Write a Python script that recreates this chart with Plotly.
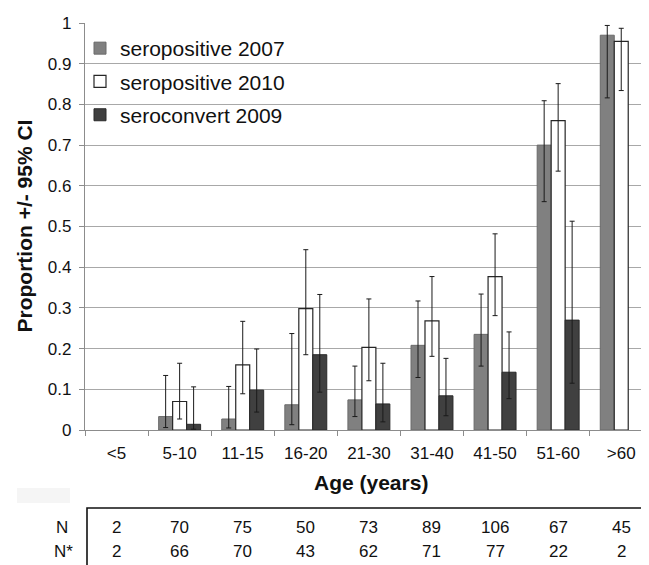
import plotly.graph_objects as go

categories = ['<5', '5-10', '11-15', '16-20', '21-30', '31-40', '41-50', '51-60', '>60']

sero2007 = [None, 0.033, 0.027, 0.062, 0.074, 0.208, 0.235, 0.700, 0.970]
sero2007_hi = [None, 0.134, 0.107, 0.237, 0.157, 0.317, 0.334, 0.809, 0.994]
sero2007_lo = [None, 0.006, 0.005, 0.013, 0.033, 0.129, 0.157, 0.561, 0.816]

sero2010 = [None, 0.070, 0.160, 0.298, 0.203, 0.268, 0.377, 0.760, 0.955]
sero2010_hi = [None, 0.164, 0.267, 0.443, 0.322, 0.377, 0.482, 0.851, 0.987]
sero2010_lo = [None, 0.027, 0.089, 0.185, 0.121, 0.181, 0.281, 0.636, 0.834]

conv2009 = [None, 0.014, 0.098, 0.185, 0.064, 0.084, 0.142, 0.270, None]
conv2009_hi = [None, 0.106, 0.199, 0.333, 0.164, 0.176, 0.241, 0.513, None]
conv2009_lo = [None, 0.002, 0.044, 0.093, 0.020, 0.035, 0.077, 0.115, None]

n_total = [2, 70, 75, 50, 73, 89, 106, 67, 45]
n_star = [2, 66, 70, 43, 62, 71, 77, 22, 2]

FONT = "Liberation Sans, Arial, sans-serif"


def plus(v, h):
    return [None if (a is None or b is None) else b - a for a, b in zip(v, h)]


def minus(v, l):
    return [None if (a is None or b is None) else a - b for a, b in zip(v, l)]


def err(v, h, l):
    return dict(type='data', array=plus(v, h), arrayminus=minus(v, l),
                color='#1a1a1a', thickness=1, width=2.5, visible=True)


fig = go.Figure()
fig.add_trace(go.Bar(name='seropositive 2007', x=categories, y=sero2007,
                     marker=dict(color='#808080', line=dict(color='#6a6a6a', width=1)),
                     error_y=err(sero2007, sero2007_hi, sero2007_lo), legendgroup='a'))
fig.add_trace(go.Bar(name='seropositive 2010', x=categories, y=sero2010,
                     marker=dict(color='#ffffff', line=dict(color='#262626', width=1.2)),
                     error_y=err(sero2010, sero2010_hi, sero2010_lo), legendgroup='b'))
fig.add_trace(go.Bar(name='seroconvert 2009', x=categories, y=conv2009,
                     marker=dict(color='#404040', line=dict(color='#2a2a2a', width=1)),
                     error_y=err(conv2009, conv2009_hi, conv2009_lo), legendgroup='c'))

# the page body has an 8px margin; compensate so the figure fills the window
OFF = 8
W, H = 649 - OFF, 565 - OFF
L, T = 85 - OFF, 23 - OFF
PH = 407
B = H - T - PH
PW = W - L


def px_x(p):
    return (p - OFF - L) / PW


def px_y(p):
    return (T + PH - (p - OFF)) / PH


annotations = []
for c, a, b in zip(categories, n_total, n_star):
    annotations.append(dict(x=c, xref='x', y=px_y(527), yref='paper', text=str(a),
                            showarrow=False, font=dict(size=17, color='#111'),
                            xanchor='center', yanchor='middle'))
    annotations.append(dict(x=c, xref='x', y=px_y(551), yref='paper', text=str(b),
                            showarrow=False, font=dict(size=17, color='#111'),
                            xanchor='center', yanchor='middle'))
annotations.append(dict(x=px_x(62), xref='paper', y=px_y(527), yref='paper', text='N',
                        showarrow=False, font=dict(size=17, color='#111'),
                        xanchor='center', yanchor='middle'))
annotations.append(dict(x=px_x(63), xref='paper', y=px_y(551), yref='paper', text='N*',
                        showarrow=False, font=dict(size=17, color='#111'),
                        xanchor='center', yanchor='middle'))
annotations.append(dict(x=px_x(371), xref='paper', y=px_y(482), yref='paper',
                        text='<b>Age (years)</b>', showarrow=False,
                        font=dict(size=21, color='#111'), xanchor='center', yanchor='middle'))
annotations.append(dict(x=px_x(24), xref='paper', y=0.5, yref='paper',
                        text='<b>Proportion +/- 95% CI</b>', textangle=-90, showarrow=False,
                        font=dict(size=21, color='#111'), xanchor='center', yanchor='middle'))

shapes = [
    dict(type='rect', xref='paper', yref='paper', x0=px_x(87), x1=px_x(645),
         y0=px_y(508), y1=px_y(580), line=dict(color='#111', width=1.6)),
    dict(type='rect', xref='paper', yref='paper', x0=px_x(17), x1=px_x(70),
         y0=px_y(488), y1=px_y(503), line=dict(width=0), fillcolor='#f5f5f5'),
]

fig.update_layout(
    width=W, height=H,
    margin=dict(l=L, r=0, t=T, b=B, pad=0),
    paper_bgcolor='white', plot_bgcolor='white',
    font=dict(family=FONT, color='#111'),
    barmode='group', bargap=0.335, bargroupgap=0,
    showlegend=True,
    legend=dict(x=px_x(80), y=px_y(28), xanchor='left', yanchor='top',
                font=dict(size=21, color='#111'), bgcolor='rgba(0,0,0,0)',
                traceorder='grouped', tracegroupgap=3, itemwidth=30),
    xaxis=dict(type='category', range=[-0.5, 8.44], showgrid=False,
               showline=True, linecolor='#8c8c8c', linewidth=1.2,
               ticks='outside', tickson='boundaries', ticklen=5, tickcolor='#8c8c8c',
               ticklabelstandoff=7,
               tickfont=dict(size=17, color='#111'), fixedrange=True),
    yaxis=dict(range=[0, 1], dtick=0.1, tick0=0, showgrid=True, gridcolor='#a8a8a8',
               gridwidth=1.2, showline=True, linecolor='#8c8c8c', linewidth=1.2,
               ticks='outside', ticklen=5, tickcolor='#8c8c8c', ticklabelstandoff=4,
               tickfont=dict(size=17, color='#111'), zeroline=False, fixedrange=True),
    annotations=annotations,
    shapes=shapes,
)

fig.write_html("out.html")
